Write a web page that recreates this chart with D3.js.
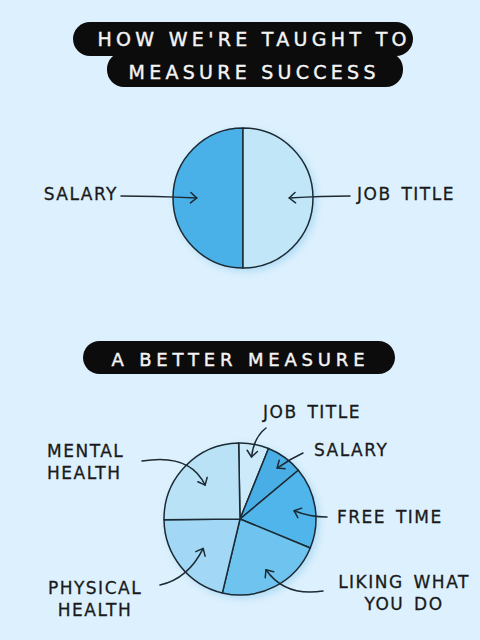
<!DOCTYPE html>
<html><head><meta charset="utf-8">
<script src="https://cdn.jsdelivr.net/npm/d3@7/dist/d3.min.js"></script>
<style>html,body{margin:0;padding:0;background:#dcf0fd;}svg{display:block;}</style>
</head><body>
<script>
// ---- data ----
const titleLines = ["HOW WE'RE TAUGHT TO", "MEASURE SUCCESS"];
const subtitle = "A BETTER MEASURE";
const topCategories = ["SALARY", "JOB TITLE"];
const topValues = [50, 50];
const topColors = ["#4ab0e8", "#c0e6f8"];
const bottomCategories = ["JOB TITLE", "SALARY", "FREE TIME", "LIKING WHAT YOU DO", "PHYSICAL HEALTH", "MENTAL HEALTH"];
const bottomValues = [6.4, 7.8, 17.3, 22.5, 21.1, 24.9];
const bottomColors = ["#cdeafa", "#4aaee6", "#4fb5ea", "#6fc3ef", "#a2d8f5", "#bae2f7"];
const bottomLabelLines = [["JOB TITLE"], ["SALARY"], ["FREE TIME"], ["LIKING WHAT", "YOU DO"], ["PHYSICAL", "HEALTH"], ["MENTAL", "HEALTH"]];

// ---- layout ----
const W = 480, H = 640;
const svg = d3.select("body").append("svg").attr("width", W).attr("height", H);
svg.append("rect").attr("width", W).attr("height", H).attr("fill", "#dcf0fd");
const ink = "#1c2a33";
const font = "'DejaVu Sans', sans-serif";

// title pills
const pills = [
  {x: 73, y: 22, w: 340, h: 34, r: 17},
  {x: 107, y: 52, w: 296, h: 35, r: 17},
  {x: 83, y: 341, w: 312, h: 33, r: 16.5}
];
svg.selectAll("rect.pill").data(pills).join("rect").attr("class", "pill")
  .attr("x", d => d.x).attr("y", d => d.y).attr("width", d => d.w).attr("height", d => d.h)
  .attr("rx", d => d.r).attr("fill", "#0c0c0c");
const titleSpecs = [
  {t: titleLines[0], x: 252, y: 46, len: 309, fs: 19},
  {t: titleLines[1], x: 252, y: 79, len: 247, fs: 19},
  {t: subtitle, x: 238, y: 366, len: 253, fs: 18}
];
svg.selectAll("text.title").data(titleSpecs).join("text").attr("class", "title")
  .attr("x", d => d.x - d.len / 2).attr("y", d => d.y)
  .attr("textLength", d => d.len).attr("lengthAdjust", "spacing")
  .attr("font-family", font).attr("font-size", d => d.fs).attr("fill", "#f4f4f4")
  .attr("stroke", "#f4f4f4").attr("stroke-width", 0.4)
  .text(d => d.t);

function drawPie(cx, cy, R, cats, vals, cols, startDeg, annots) {
  const g = svg.append("g").attr("transform", `translate(${cx},${cy})`);
  // soft shadow
  g.append("circle").attr("cx", 3).attr("cy", 3).attr("r", R + 1)
    .attr("fill", "#6cbdec").attr("opacity", 0.35).style("filter", "blur(3px)");
  const start = startDeg * Math.PI / 180;
  const pie = d3.pie().sort(null).startAngle(start).endAngle(start + 2 * Math.PI);
  const arcs = pie(vals);
  const arc = d3.arc().innerRadius(0).outerRadius(R);
  g.selectAll("path.slice").data(arcs).join("path").attr("class", "slice")
    .attr("d", arc).attr("fill", (d, i) => cols[i])
    .attr("stroke", ink).attr("stroke-width", 1.5).attr("stroke-linejoin", "round");

  // annotations
  arcs.forEach((d, i) => {
    const a = annots[i];
    const tipArc = d3.arc().innerRadius(R * a.k).outerRadius(R * a.k);
    const tip = tipArc.centroid(d);
    const s = a.start, c = a.ctrl || [(a.start[0] + tip[0]) / 2, (a.start[1] + tip[1]) / 2];
    const p = d3.path();
    p.moveTo(s[0], s[1]);
    p.quadraticCurveTo(c[0], c[1], tip[0], tip[1]);
    g.append("path").attr("d", p.toString()).attr("fill", "none")
      .attr("stroke", ink).attr("stroke-width", 1.5).attr("stroke-linecap", "round");
    // chevron
    const ang = Math.atan2(tip[1] - c[1], tip[0] - c[0]);
    const L = 8, spread = 0.7;
    const h = d3.path();
    h.moveTo(tip[0] - L * Math.cos(ang - spread), tip[1] - L * Math.sin(ang - spread));
    h.lineTo(tip[0], tip[1]);
    h.lineTo(tip[0] - L * Math.cos(ang + spread), tip[1] - L * Math.sin(ang + spread));
    g.append("path").attr("d", h.toString()).attr("fill", "none")
      .attr("stroke", ink).attr("stroke-width", 1.5).attr("stroke-linecap", "round").attr("stroke-linejoin", "round");
    // label
    const t = g.append("text").attr("font-family", font).attr("font-size", 17)
      .attr("fill", "#1a1a1a").attr("stroke", "#1a1a1a").attr("stroke-width", 0.3)
      .attr("letter-spacing", "1.5px").attr("word-spacing", "3px")
      .attr("text-anchor", a.anchor);
    a.lines.forEach((ln, j) => {
      t.append("tspan").attr("x", a.label[0]).attr("y", a.label[1] + j * 22).text(ln);
    });
  });
}

// top pie
drawPie(243, 198, 70, topCategories, topValues, topColors, 180, [
  {k: 0.66, start: [-122, -2], ctrl: [-90, -2], label: [-125, 2], anchor: "end", lines: [topCategories[0]]},
  {k: 0.66, start: [107, -2], ctrl: [80, -2], label: [114, 2], anchor: "start", lines: [topCategories[1]]}
]);

// bottom pie
drawPie(240, 519, 76, bottomCategories, bottomValues, bottomColors, -1, [
  {k: 0.83, start: [26, -91], ctrl: [14, -82], label: [23, -101], anchor: "start", lines: bottomLabelLines[0]},
  {k: 0.83, start: [63, -66], ctrl: [50, -60], label: [74, -63], anchor: "start", lines: bottomLabelLines[1]},
  {k: 0.72, start: [87, -2], ctrl: [70, -2], label: [97, 4], anchor: "start", lines: bottomLabelLines[2]},
  {k: 0.75, start: [83, 72], ctrl: [45, 78], label: [164, 69], anchor: "middle", lines: bottomLabelLines[3]},
  {k: 0.62, start: [-80, 66], ctrl: [-52, 60], label: [-145, 75], anchor: "middle", lines: bottomLabelLines[4]},
  {k: 0.64, start: [-98, -58], ctrl: [-50, -66], label: [-193, -62], anchor: "start", lines: bottomLabelLines[5]}
]);
</script>
</body></html>
